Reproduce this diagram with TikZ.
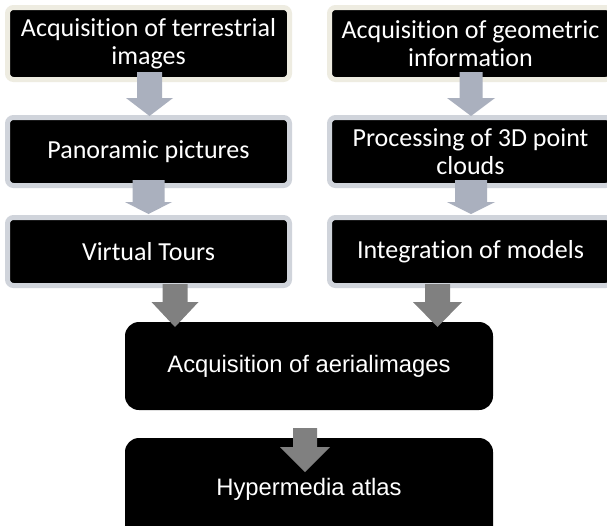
\documentclass[tikz,border=0pt]{standalone}
\usepackage{fontspec}
\setmainfont{Carlito}[Ligatures={NoCommon,NoContextual},Contextuals=NoAlternate]
\newfontfamily\arialfont{Liberation Sans}
\definecolor{creamb}{RGB}{238,236,225}
\definecolor{grayb}{RGB}{208,212,219}
\definecolor{lightarr}{RGB}{170,176,190}
\definecolor{darkarr}{RGB}{128,128,128}
\newcommand\blockarrow[7]{%
  \fill[#7] (#1-#2,#4) -- (#1+#2,#4) -- (#1+#2,#5) -- (#1+#3,#5) -- (#1,#6)
    -- (#1-#3,#5) -- (#1-#2,#5) -- cycle;}
\tikzset{
  topbox/.style={rectangle, rounded corners=6pt, fill=black, draw=#1,
    line width=5pt, text=white, align=center,
    font=\fontsize{26}{28}\selectfont, minimum width=282pt, inner sep=0pt},
  botbox/.style={rectangle, rounded corners=14pt, fill=black, text=white,
    align=center, font=\arialfont\fontsize{23.8}{26}\selectfont,
    minimum width=368pt, inner sep=0pt},
}
\begin{document}
\begin{tikzpicture}[x=1pt,y=-1pt]
\clip (0,0) rectangle (607,525);
\fill[white] (0,0) rectangle (607,525);
% boxes
\node[topbox=creamb, minimum height=72pt] (t1) at (148.5,43.5) {Acquisition of terrestrial\\images};
\node[topbox=creamb, minimum height=72pt] (t2) at (470.5,43.5) {Acquisition of geometric\\information};
\node[topbox=grayb, minimum height=68pt] (p1) at (148.5,151.5) {Panoramic pictures};
\node[topbox=grayb, minimum height=68pt] (p2) at (470.5,151.5) {Processing of 3D point\\clouds};
\node[topbox=grayb, minimum height=68pt] (v1) at (148.5,251.5) {Virtual Tours};
\node[topbox=grayb, minimum height=68pt] (v2) at (470.5,251.5) {Integration of models};
\node[botbox, minimum height=88pt] (a) at (309,366) {\raisebox{-2pt}{Acquisition of aerialimages}};
\node[botbox, minimum height=102pt] (h) at (309,489) {\raisebox{-1pt}{Hypermedia atlas}};
% arrows
\blockarrow{149.5}{12.5}{23.5}{72}{98}{116}{lightarr}
\blockarrow{148.5}{16}{23.5}{180}{202}{214}{lightarr}
\blockarrow{471}{11.5}{24}{72}{98}{116}{lightarr}
\blockarrow{471}{16}{24}{180}{202}{214}{lightarr}
\blockarrow{175}{12.5}{23.5}{284}{302}{327}{darkarr}
\blockarrow{437.5}{12.5}{24.5}{284}{302}{327}{darkarr}
\blockarrow{305}{12}{25}{428}{447}{472}{darkarr}
\end{tikzpicture}
\end{document}
